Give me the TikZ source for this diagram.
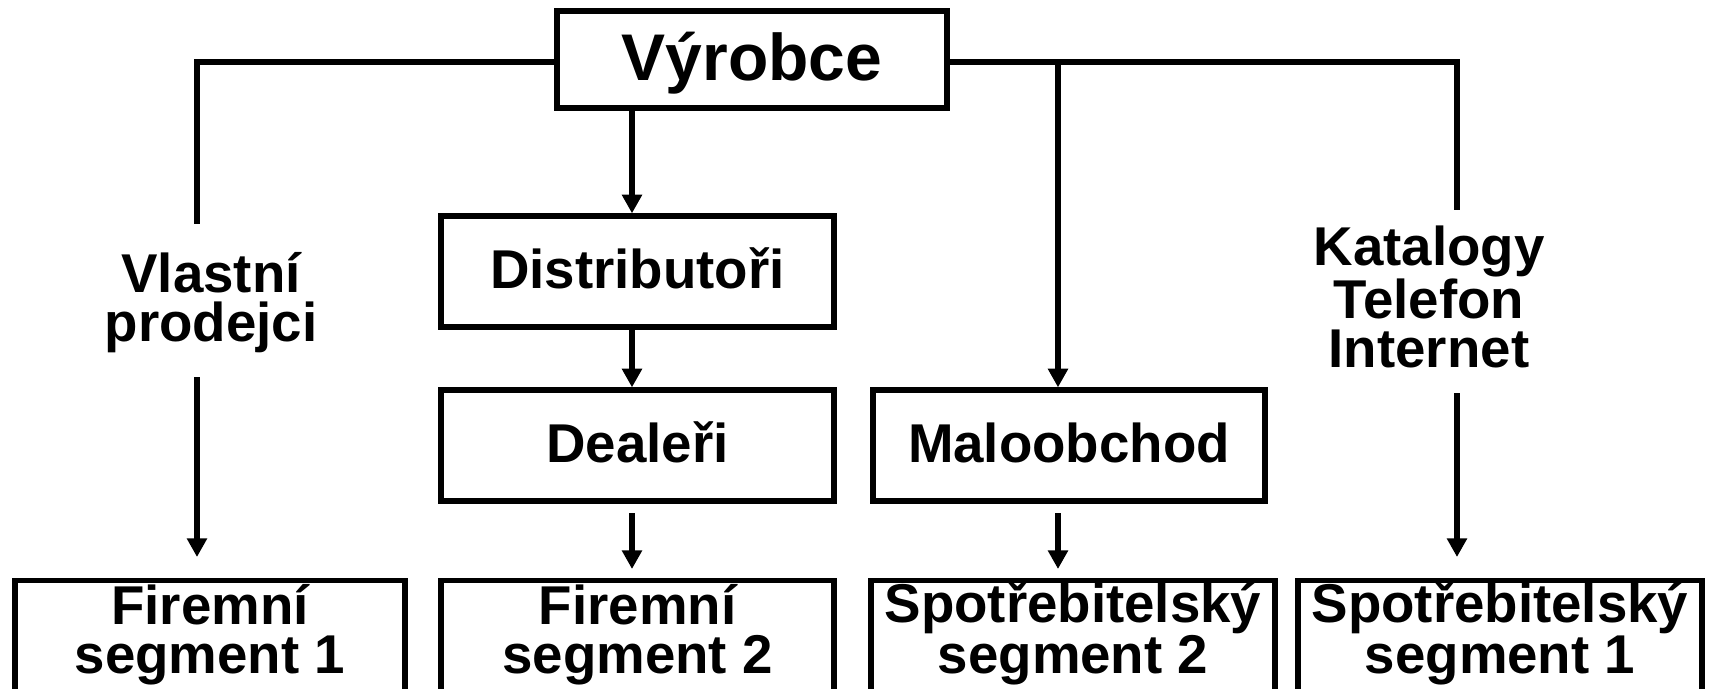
\documentclass[tikz,border=0pt]{standalone}
\usepackage{fontspec}
\setmainfont{Liberation Sans}
\usetikzlibrary{arrows.meta}
\begin{document}
\begin{tikzpicture}[x=0.75pt,y=-0.75pt,
  every node/.style={font=\fontsize{41}{36.5}\selectfont\bfseries},
  box/.style={draw, line width=4pt, inner sep=0pt, text height=29.4pt, text depth=3.2pt},
  botbox/.style={draw, line width=4pt, anchor=north, align=center, inner xsep=0pt, inner ysep=4.5pt, text height=64.8pt, text depth=50pt},
  conn/.style={line width=4.3pt},
  arr/.style={conn, -{Triangle[length=14pt,width=14.5pt]}},
  lbl/.style={anchor=base, align=center, inner sep=0pt}]
\useasboundingbox (0,0) rectangle (1714,689);
\clip (0,0) rectangle (1714,689);
% boxes
\node[box, minimum width=292.5pt, minimum height=72.75pt, text height=35.4pt, text depth=4.6pt,
      font=\fontsize{49.5}{50}\selectfont\bfseries] (vyr) at (752,59.5) {Výrobce};
\node[box, minimum width=294.75pt, minimum height=83.25pt] (dist) at (637.5,271.5) {Distributoři};
\node[box, minimum width=294.75pt, minimum height=83.25pt] (deal) at (637.5,445.5) {Dealeři};
\node[box, minimum width=294pt, minimum height=83.25pt] (malo) at (1069,445.5) {Maloobchod};
\node[botbox, minimum width=292.5pt] (f1) at (210,578) {Firemní\\segment 1};
\node[botbox, minimum width=294.75pt] (f2) at (637.5,578) {Firemní\\segment 2};
\node[botbox, minimum width=303pt] (s2) at (1073,578) {Spotřebitelský\\segment 2};
\node[botbox, minimum width=303pt] (s1) at (1500,578) {Spotřebitelský\\segment 1};
% labels
\node[lbl] (vp) at (211,341) {Vlastní\\prodejci};
\node[lbl] (ktl) at (1429,367) {Katalogy\\Telefon\\Internet};
% coordinates
\coordinate (lt) at (197,62);
\coordinate (lstop) at (197,224);
\coordinate (lres) at (197,377);
\coordinate (rt) at (1457,62);
\coordinate (rstop) at (1457,210);
\coordinate (rres) at (1457,393);
\coordinate (mt) at (1058,62);
\coordinate (c2) at (632,0);
% connectors
\draw[conn] (lt -| vyr.west) -- (lt) -- (lstop);
\draw[arr] (lres) -- ([yshift=15.75pt]f1.north -| lres);
\draw[conn] (rt -| vyr.east) -- (rt) -- (rstop);
\draw[arr] (rres) -- ([yshift=15.75pt]s1.north -| rres);
\draw[arr] (mt) -- (malo.north -| mt);
\draw[arr] ([yshift=-7pt]malo.south -| mt) -- ([yshift=6.75pt]s2.north -| mt);
\draw[arr] (vyr.south -| c2) -- (dist.north -| c2);
\draw[arr] (dist.south -| c2) -- (deal.north -| c2);
\draw[arr] ([yshift=-7pt]deal.south -| c2) -- ([yshift=6.75pt]f2.north -| c2);
\end{tikzpicture}
\end{document}
